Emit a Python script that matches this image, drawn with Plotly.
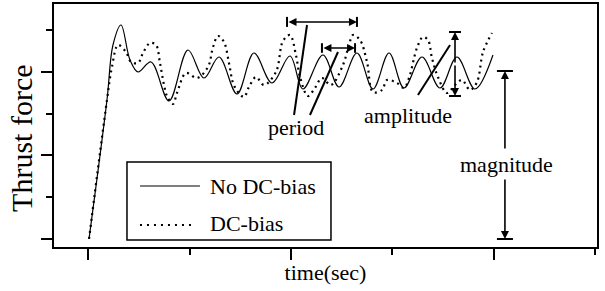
import plotly.graph_objects as go

# ---- data (time in arbitrary units, thrust force in arbitrary units) ----
series_names = ["No DC-bias", "DC-bias"]

t_nodc = [0.01, 0.187, 0.246, 0.325, 0.414, 0.493, 0.621, 0.798, 0.985, 1.143,
          1.291, 1.468, 1.635, 1.813, 1.990, 2.118, 2.315, 2.473, 2.650, 2.808,
          2.966, 3.113, 3.291, 3.468, 3.635, 3.813, 3.990]
f_nodc = [0.0, 3.33, 4.647, 5.126, 4.287, 4.0, 4.24, 3.305, 4.527, 3.856,
          4.359, 3.473, 4.455, 3.737, 4.383, 3.593, 4.407, 3.641, 4.455, 3.593,
          4.455, 3.617, 4.359, 3.617, 4.359, 3.593, 4.407]

t_dc = [0.01, 0.187, 0.236, 0.296, 0.374, 0.424, 0.493, 0.542, 0.611, 0.670,
        0.709, 0.749, 0.778, 0.837, 0.877, 0.966, 1.074, 1.182, 1.232, 1.281,
        1.340, 1.389, 1.429, 1.478, 1.537, 1.586, 1.655, 1.734, 1.852, 1.921,
        1.990, 2.049, 2.089, 2.167, 2.236, 2.305, 2.394, 2.512, 2.571, 2.611,
        2.680, 2.749, 2.808, 2.897, 2.946, 3.044, 3.113, 3.163, 3.241, 3.300,
        3.350, 3.389, 3.448, 3.537, 3.616, 3.685, 3.764, 3.833, 3.892, 3.980]
f_dc = [0.0, 3.33, 4.12, 4.647, 4.479, 4.24, 4.216, 4.455, 4.695, 4.647,
        4.216, 3.689, 3.425, 3.234, 3.497, 3.976, 3.856, 4.12, 4.599, 4.862,
        4.719, 4.216, 3.737, 3.521, 3.401, 3.641, 3.88, 3.689, 4.0, 4.743,
        4.886, 4.407, 3.88, 3.425, 3.617, 3.856, 3.689, 4.168, 4.647, 4.886,
        4.766, 4.24, 3.521, 3.569, 3.808, 3.737, 3.617, 3.856, 4.575, 4.838,
        4.766, 4.335, 3.88, 3.497, 3.689, 3.808, 3.569, 3.76, 4.479, 4.934]

annotation_texts = ["period", "amplitude", "magnitude"]
x_title = "time(sec)"
y_title = "Thrust force"

FONT = "Liberation Serif, Times New Roman, serif"
BLACK = "#000000"

fig = go.Figure()
fig.add_trace(go.Scatter(x=t_nodc, y=f_nodc, mode="lines", name=series_names[0],
                         line=dict(color=BLACK, width=1.2, shape="spline", smoothing=1.0),
                         showlegend=False))
fig.add_trace(go.Scatter(x=t_dc, y=f_dc, mode="lines", name=series_names[1],
                         line=dict(color=BLACK, width=2.2, dash="2px,4px", shape="spline", smoothing=1.0),
                         showlegend=False))

shapes = []
annots = []

def seg(x0, y0, x1, y1, w=1.5):
    shapes.append(dict(type="line", xref="x", yref="y", x0=x0, y0=y0, x1=x1, y1=y1,
                       line=dict(color=BLACK, width=w)))

def arrow(x0, y0, x1, y1, both=False):
    annots.append(dict(x=x1, y=y1, ax=x0, ay=y0, xref="x", yref="y", axref="x", ayref="y",
                       text="", showarrow=True, arrowhead=2, startarrowhead=2,
                       arrowside="end+start" if both else "end",
                       arrowsize=1, startarrowsize=1, arrowwidth=1.6, arrowcolor=BLACK,
                       standoff=0, startstandoff=0))

# long period (dotted series)
arrow(1.961, 5.198, 2.650, 5.198, both=True)
seg(1.961, 5.08, 1.961, 5.32, 2)
seg(2.650, 5.08, 2.650, 5.32, 2)
# short period (solid series)
arrow(2.305, 4.575, 2.631, 4.575, both=True)
seg(2.305, 4.46, 2.305, 4.69, 2)
seg(2.631, 4.46, 2.631, 4.69, 2)
# period pointers
seg(2.030, 2.970, 2.158, 5.126, 2)
seg(2.187, 2.970, 2.463, 4.479, 2)

# amplitude
arrow(3.616, 4.19, 3.616, 4.958)
arrow(3.616, 4.19, 3.616, 3.425)
seg(3.557, 4.958, 3.675, 4.958, 2)
seg(3.557, 3.425, 3.675, 3.425, 2)
seg(3.251, 3.449, 3.567, 4.647, 2)

# magnitude
arrow(4.108, 2.132, 4.108, 4.024)
arrow(4.108, 1.461, 4.108, 0.0)
seg(4.029, 4.024, 4.187, 4.024, 2)
seg(4.029, 0.0, 4.187, 0.0, 2)

# texts
tfont = dict(family=FONT, size=22, color=BLACK)
annots.append(dict(x=2.049, y=2.66, xref="x", yref="y", text=annotation_texts[0],
                   showarrow=False, font=tfont))
annots.append(dict(x=3.153, y=2.97, xref="x", yref="y", text=annotation_texts[1],
                   showarrow=False, font=tfont))
annots.append(dict(x=4.128, y=1.796, xref="x", yref="y", text=annotation_texts[2],
                   showarrow=False, font=tfont))
# y-axis title (as rotated annotation so it can sit slightly below centre, as in the reference)
annots.append(dict(x=-0.059, y=2.42, xref="paper", yref="y", text=y_title, textangle=-90,
                   showarrow=False, xanchor="center", yanchor="middle",
                   font=dict(family=FONT, size=30, color=BLACK)))

# legend box (manual, to match sample length)
shapes.append(dict(type="rect", xref="x", yref="y", x0=0.384, y0=-0.024, x1=2.394, y1=1.844,
                   line=dict(color=BLACK, width=1.5), fillcolor="white", layer="above"))
seg(0.512, 1.269, 1.103, 1.269, 1.2)
shapes.append(dict(type="line", xref="x", yref="y", x0=0.512, y0=0.335, x1=1.034, y1=0.335,
                   line=dict(color=BLACK, width=2.2, dash="2px,5px")))
annots.append(dict(x=1.182, y=1.25, xref="x", yref="y", text=series_names[0], xanchor="left",
                   showarrow=False, font=tfont))
annots.append(dict(x=1.182, y=0.38, xref="x", yref="y", text=series_names[1], xanchor="left",
                   showarrow=False, font=tfont))

fig.update_layout(
    width=605, height=291,
    margin=dict(l=54, r=8, t=4, b=44),
    paper_bgcolor="white", plot_bgcolor="white",
    font=dict(family=FONT, size=22, color=BLACK),
    shapes=shapes, annotations=annots,
    showlegend=False,
)
fig.update_xaxes(range=[-0.335, 5.015], showgrid=False, zeroline=False, automargin=False,
                 showline=True, linecolor=BLACK, linewidth=2, mirror=True,
                 tickmode="linear", tick0=0, dtick=2, ticks="outside", ticklen=11,
                 tickwidth=2, tickcolor=BLACK, showticklabels=False,
                 minor=dict(dtick=1, tick0=0, ticks="outside", ticklen=6, tickwidth=2, tickcolor=BLACK),
                 title=dict(text=x_title, font=dict(family=FONT, size=22, color=BLACK), standoff=6))
fig.update_yaxes(range=[-0.192, 5.629], showgrid=False, zeroline=False, automargin=False,
                 showline=True, linecolor=BLACK, linewidth=2, mirror=True,
                 tickmode="linear", tick0=0, dtick=2, ticks="outside", ticklen=11,
                 tickwidth=2, tickcolor=BLACK, showticklabels=False,
                 minor=dict(dtick=1, tick0=0, ticks="outside", ticklen=6, tickwidth=2, tickcolor=BLACK))

fig.write_html("out.html", config={"displayModeBar": False},
               post_script="document.body.style.margin='0';document.body.style.padding='0';")
